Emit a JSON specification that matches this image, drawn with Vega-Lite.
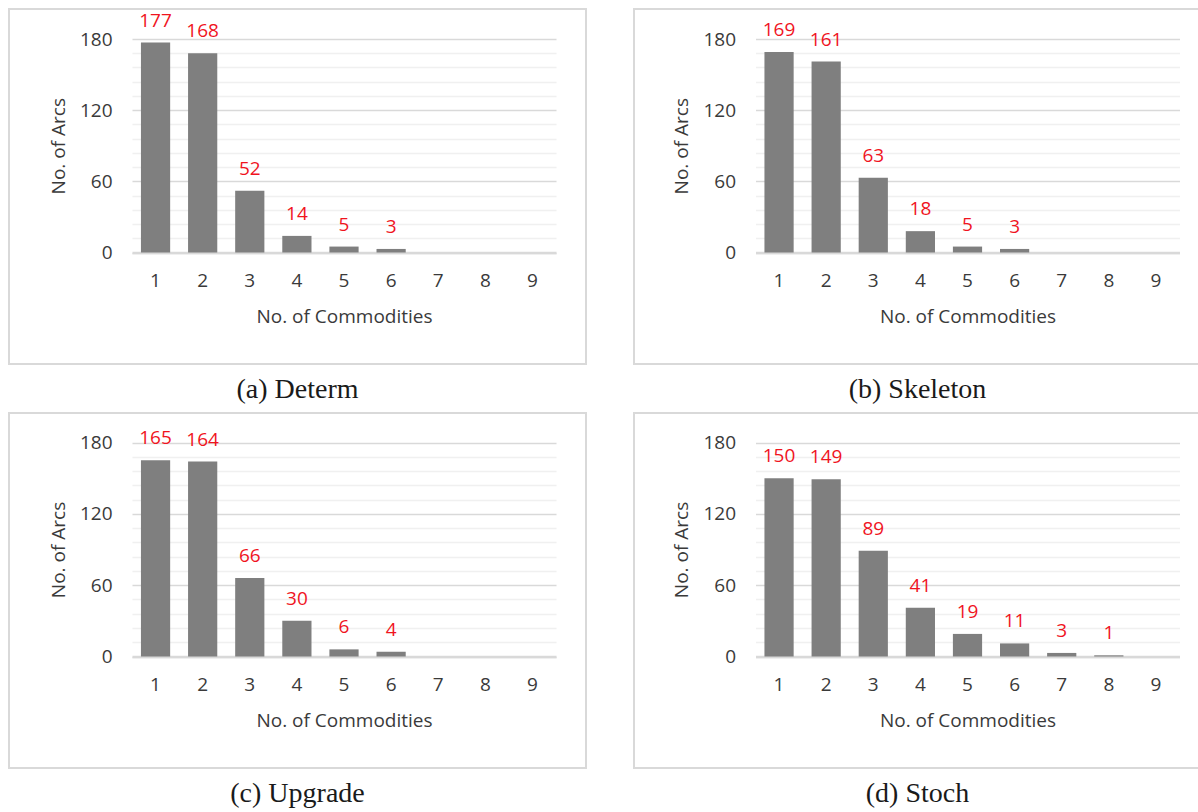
{
  "$schema": "https://vega.github.io/schema/vega-lite/v6.json",
  "padding": {"left": 8, "top": 8, "right": 0, "bottom": 0},
  "config": {
    "view": {"stroke": "#d9d9d9", "strokeWidth": 2, "fill": "white"},
    "background": "white",
    "title": {"font": "Liberation Serif", "fontSize": 28, "fontWeight": "normal", "color": "#1a1a1a", "orient": "bottom", "offset": 12, "anchor": "middle"},
    "axis": {"labelFont": "Open Sans", "labelFontSize": 19, "labelColor": "#3a3a3a", "titleFont": "Open Sans", "titleFontSize": 19, "titleFontWeight": "normal", "titleColor": "#3a3a3a", "ticks": false}
  },
  "datasets": {
    "determ": [
      {"k": 1, "n": 177}, {"k": 2, "n": 168}, {"k": 3, "n": 52}, {"k": 4, "n": 14}, {"k": 5, "n": 5},
      {"k": 6, "n": 3}, {"k": 7, "n": 0}, {"k": 8, "n": 0}, {"k": 9, "n": 0}
    ],
    "skeleton": [
      {"k": 1, "n": 169}, {"k": 2, "n": 161}, {"k": 3, "n": 63}, {"k": 4, "n": 18}, {"k": 5, "n": 5},
      {"k": 6, "n": 3}, {"k": 7, "n": 0}, {"k": 8, "n": 0}, {"k": 9, "n": 0}
    ],
    "upgrade": [
      {"k": 1, "n": 165}, {"k": 2, "n": 164}, {"k": 3, "n": 66}, {"k": 4, "n": 30}, {"k": 5, "n": 6},
      {"k": 6, "n": 4}, {"k": 7, "n": 0}, {"k": 8, "n": 0}, {"k": 9, "n": 0}
    ],
    "stoch": [
      {"k": 1, "n": 150}, {"k": 2, "n": 149}, {"k": 3, "n": 89}, {"k": 4, "n": 41}, {"k": 5, "n": 19},
      {"k": 6, "n": 11}, {"k": 7, "n": 3}, {"k": 8, "n": 1}, {"k": 9, "n": 0}
    ]
  },
  "vconcat": [
    {
      "hconcat": [
        {
          "width": 577, "height": 355,
          "data": {"name": "determ"},
          "title": {"text": "(a) Determ"},
          "encoding": {
            "x": {"field": "k", "type": "ordinal",
              "scale": {"range": [123, 547], "paddingInner": 0.38, "paddingOuter": 0.19},
              "axis": {"orient": "bottom", "offset": -111.5, "domainColor": "#d9d9d9", "domainWidth": 2.5, "labelAngle": 0, "labelPadding": 19, "title": "No. of Commodities", "titlePadding": 17, "grid": false}}
          },
          "layer": [
            {
              "mark": {"type": "bar", "color": "#7f7f7f"},
              "encoding": {"y": {"field": "n", "type": "quantitative", "scale": {"domain": [0, 180], "range": [243.5, 30], "nice": false},
                "axis": {"orient": "left", "offset": -123, "values": [12, 24, 36, 48, 72, 84, 96, 108, 132, 144, 156, 168], "labels": false, "domain": false, "title": null, "grid": true, "gridColor": "#f0f0f0", "gridWidth": 1.5}}}
            },
            {
              "transform": [{"filter": "datum.n > 0"}],
              "mark": {"type": "text", "color": "#f0141e", "font": "Open Sans", "fontSize": 19, "baseline": "bottom", "dy": -12},
              "encoding": {
                "y": {"field": "n", "type": "quantitative",
                  "axis": {"orient": "left", "offset": -123, "values": [0, 60, 120, 180], "domain": false, "labelPadding": 20, "grid": true, "gridColor": "#d9d9d9", "gridWidth": 1.5, "title": "No. of Arcs", "titlePadding": 11}},
                "text": {"field": "n", "type": "quantitative"}
              }
            }
          ],
          "resolve": {"axis": {"y": "independent"}}
        },
        {
          "width": 567, "height": 355,
          "data": {"name": "skeleton"},
          "title": {"text": "(b) Skeleton"},
          "encoding": {
            "x": {"field": "k", "type": "ordinal",
              "scale": {"range": [121.5, 545.5], "paddingInner": 0.38, "paddingOuter": 0.19},
              "axis": {"orient": "bottom", "offset": -111.5, "domainColor": "#d9d9d9", "domainWidth": 2.5, "labelAngle": 0, "labelPadding": 19, "title": "No. of Commodities", "titlePadding": 17, "grid": false}}
          },
          "layer": [
            {
              "mark": {"type": "bar", "color": "#7f7f7f"},
              "encoding": {"y": {"field": "n", "type": "quantitative", "scale": {"domain": [0, 180], "range": [243.5, 30], "nice": false},
                "axis": {"orient": "left", "offset": -121.5, "values": [12, 24, 36, 48, 72, 84, 96, 108, 132, 144, 156, 168], "labels": false, "domain": false, "title": null, "grid": true, "gridColor": "#f0f0f0", "gridWidth": 1.5}}}
            },
            {
              "transform": [{"filter": "datum.n > 0"}],
              "mark": {"type": "text", "color": "#f0141e", "font": "Open Sans", "fontSize": 19, "baseline": "bottom", "dy": -12},
              "encoding": {
                "y": {"field": "n", "type": "quantitative",
                  "axis": {"orient": "left", "offset": -121.5, "values": [0, 60, 120, 180], "domain": false, "labelPadding": 20, "grid": true, "gridColor": "#d9d9d9", "gridWidth": 1.5, "title": "No. of Arcs", "titlePadding": 11}},
                "text": {"field": "n", "type": "quantitative"}
              }
            }
          ],
          "resolve": {"axis": {"y": "independent"}}
        }
      ],
      "spacing": 46
    },
    {
      "hconcat": [
        {
          "width": 577, "height": 355,
          "data": {"name": "upgrade"},
          "title": {"text": "(c) Upgrade"},
          "encoding": {
            "x": {"field": "k", "type": "ordinal",
              "scale": {"range": [123, 547], "paddingInner": 0.38, "paddingOuter": 0.19},
              "axis": {"orient": "bottom", "offset": -111.5, "domainColor": "#d9d9d9", "domainWidth": 2.5, "labelAngle": 0, "labelPadding": 19, "title": "No. of Commodities", "titlePadding": 17, "grid": false}}
          },
          "layer": [
            {
              "mark": {"type": "bar", "color": "#7f7f7f"},
              "encoding": {"y": {"field": "n", "type": "quantitative", "scale": {"domain": [0, 180], "range": [243.5, 29.5], "nice": false},
                "axis": {"orient": "left", "offset": -123, "values": [12, 24, 36, 48, 72, 84, 96, 108, 132, 144, 156, 168], "labels": false, "domain": false, "title": null, "grid": true, "gridColor": "#f0f0f0", "gridWidth": 1.5}}}
            },
            {
              "transform": [{"filter": "datum.n > 0"}],
              "mark": {"type": "text", "color": "#f0141e", "font": "Open Sans", "fontSize": 19, "baseline": "bottom", "dy": -12},
              "encoding": {
                "y": {"field": "n", "type": "quantitative",
                  "axis": {"orient": "left", "offset": -123, "values": [0, 60, 120, 180], "domain": false, "labelPadding": 20, "grid": true, "gridColor": "#d9d9d9", "gridWidth": 1.5, "title": "No. of Arcs", "titlePadding": 11}},
                "text": {"field": "n", "type": "quantitative"}
              }
            }
          ],
          "resolve": {"axis": {"y": "independent"}}
        },
        {
          "width": 567, "height": 355,
          "data": {"name": "stoch"},
          "title": {"text": "(d) Stoch"},
          "encoding": {
            "x": {"field": "k", "type": "ordinal",
              "scale": {"range": [121.5, 545.5], "paddingInner": 0.38, "paddingOuter": 0.19},
              "axis": {"orient": "bottom", "offset": -111.5, "domainColor": "#d9d9d9", "domainWidth": 2.5, "labelAngle": 0, "labelPadding": 19, "title": "No. of Commodities", "titlePadding": 17, "grid": false}}
          },
          "layer": [
            {
              "mark": {"type": "bar", "color": "#7f7f7f"},
              "encoding": {"y": {"field": "n", "type": "quantitative", "scale": {"domain": [0, 180], "range": [243.5, 29.5], "nice": false},
                "axis": {"orient": "left", "offset": -121.5, "values": [12, 24, 36, 48, 72, 84, 96, 108, 132, 144, 156, 168], "labels": false, "domain": false, "title": null, "grid": true, "gridColor": "#f0f0f0", "gridWidth": 1.5}}}
            },
            {
              "transform": [{"filter": "datum.n > 0"}],
              "mark": {"type": "text", "color": "#f0141e", "font": "Open Sans", "fontSize": 19, "baseline": "bottom", "dy": -12},
              "encoding": {
                "y": {"field": "n", "type": "quantitative",
                  "axis": {"orient": "left", "offset": -121.5, "values": [0, 60, 120, 180], "domain": false, "labelPadding": 20, "grid": true, "gridColor": "#d9d9d9", "gridWidth": 1.5, "title": "No. of Arcs", "titlePadding": 11}},
                "text": {"field": "n", "type": "quantitative"}
              }
            }
          ],
          "resolve": {"axis": {"y": "independent"}}
        }
      ],
      "spacing": 46
    }
  ],
  "spacing": 7
}
